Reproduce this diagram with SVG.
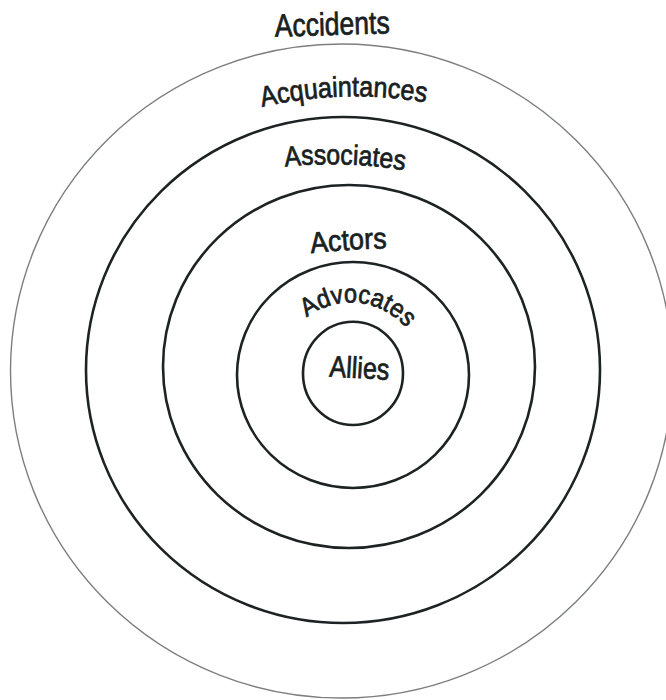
<svg xmlns="http://www.w3.org/2000/svg" width="666" height="700" viewBox="0 0 666 700">
  <style>
    .ring { fill: none; stroke: #1d2323; stroke-width: 2.6; }
    .ring-outer { fill: none; stroke: #7d7f7f; stroke-width: 1.4; }
    .label { font-family: "Liberation Sans", Arial, Helvetica, sans-serif; fill: #1a1f1f; stroke: #1a1f1f; stroke-width: 0.75; stroke-linejoin: round; }
  </style>
  <defs>
    <!-- baselines for the ring labels -->
    <path id="base-accidents" d="M275,36.7 L391,33.3"/>
    <path id="base-acquaintances" d="M262,107 Q345.5,88 428,103"/>
    <path id="base-associates" d="M285,166.5 Q345,160.5 406,170.5"/>
    <path id="base-actors" d="M311,253.3 Q349,249 388,248.3"/>
    <path id="base-advocates" d="M300.1,323.6 A72,72 0 0 1 411.4,335.3"/>
    <path id="base-allies" d="M329,376.5 L391,380"/>
  </defs>

  <!-- outermost ring: Accidents -->
  <g id="accidents">
    <ellipse class="ring-outer" cx="341.5" cy="371" rx="331" ry="327"/>
    <text class="label" font-size="32"><textPath href="#base-accidents" textLength="115" lengthAdjust="spacingAndGlyphs">Accidents</textPath></text>
  </g>

  <!-- Acquaintances -->
  <g id="acquaintances">
    <ellipse class="ring" cx="343" cy="370" rx="257" ry="253"/>
    <text class="label" font-size="28.5"><textPath href="#base-acquaintances" textLength="165" lengthAdjust="spacingAndGlyphs">Acquaintances</textPath></text>
  </g>

  <!-- Associates -->
  <g id="associates">
    <ellipse class="ring" cx="349" cy="366.5" rx="186" ry="181.5"/>
    <text class="label" font-size="28"><textPath href="#base-associates" textLength="120" lengthAdjust="spacingAndGlyphs">Associates</textPath></text>
  </g>

  <!-- Actors -->
  <g id="actors">
    <ellipse class="ring" cx="353" cy="375" rx="116" ry="113"/>
    <text class="label" font-size="29.5"><textPath href="#base-actors" textLength="76" lengthAdjust="spacingAndGlyphs">Actors</textPath></text>
  </g>

  <!-- Advocates -->
  <g id="advocates">
    <ellipse class="ring" cx="353" cy="373.4" rx="50" ry="51.6"/>
    <text class="label" font-size="26" text-anchor="middle"><textPath href="#base-advocates" startOffset="50%" textLength="110" lengthAdjust="spacingAndGlyphs">Advocates</textPath></text>
  </g>

  <!-- Allies (innermost) -->
  <g id="allies">
    <text class="label" font-size="30"><textPath href="#base-allies" textLength="60" lengthAdjust="spacingAndGlyphs">Allies</textPath></text>
  </g>

  <g id="connectors"/>
</svg>
